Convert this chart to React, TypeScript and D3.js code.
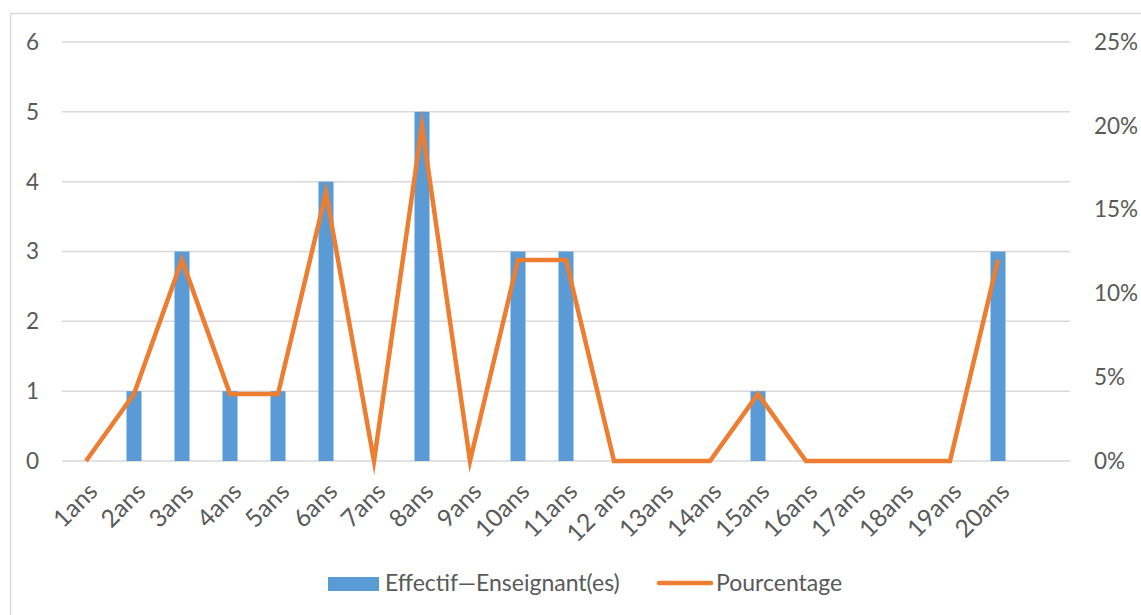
import React from "react";
import * as d3 from "d3";

const categories = ["1ans","2ans","3ans","4ans","5ans","6ans","7ans","8ans","9ans","10ans","11ans","12 ans","13ans","14ans","15ans","16ans","17ans","18ans","19ans","20ans",""];
const effectif = [0,1,3,1,1,4,0,5,0,3,3,0,0,0,1,0,0,0,0,3];
const pourcentage = [0,4,12,4,4,16,0,20,0,12,12,0,0,0,4,0,0,0,0,12];
const leftTicks = [0,1,2,3,4,5,6];
const rightTicks = [0,5,10,15,20,25];

const W = 1141, H = 615;
const plot = { left: 62, right: 1070, top: 42, bottom: 461 };
const FONT = "Lato, 'Open Sans', sans-serif";
const TXT = "#595959";
const FS = 22.5;

export default function App() {
  const x = d3.scaleBand().domain(categories.map((c, i) => String(i))).range([plot.left, plot.right]).padding(0);
  const yL = d3.scaleLinear().domain([0, 6]).range([plot.bottom, plot.top]);
  const yR = d3.scaleLinear().domain([0, 25]).range([plot.bottom, plot.top]);
  const bw = 15;
  const cx = (i: number) => (x(String(i)) as number) + x.bandwidth() / 2;
  const line = d3.line<number>().x((_, i) => cx(i)).y((d) => yR(d));

  return (
    <svg width={W} height={H} style={{ position: "absolute", left: 0, top: 0, background: "#fff" }} fontFamily={FONT}>
      <rect x={10.5} y={13.5} width={W} height={H} fill="#fff" stroke="#d9d9d9" strokeWidth={1.5} />
      {leftTicks.map((t) => (
        <line key={"g" + t} x1={plot.left} x2={plot.right} y1={yL(t)} y2={yL(t)} stroke="#d9d9d9" strokeWidth={1.5} />
      ))}
      {leftTicks.map((t) => (
        <text key={"l" + t} x={39} y={yL(t)} dy="0.35em" textAnchor="end" fontSize={FS} fill={TXT}>{t}</text>
      ))}
      {rightTicks.map((t) => (
        <text key={"r" + t} x={1094} y={yR(t)} dy="0.35em" textAnchor="start" fontSize={FS} fill={TXT}>{t + "%"}</text>
      ))}
      {effectif.map((v, i) => (
        <rect key={"b" + i} x={cx(i) - bw / 2} y={yL(v)} width={bw} height={plot.bottom - yL(v)} fill="#5b9bd5" />
      ))}
      <path d={line(pourcentage) || ""} fill="none" stroke="#ed7d31" strokeWidth={4.5} strokeLinejoin="miter" strokeMiterlimit={10} />
      {categories.map((c, i) => (
        <text key={"x" + i} transform={`translate(${cx(i) + 7},${487}) rotate(-45)`} textAnchor="end" dy="0.35em" fontSize={24.5} fill={TXT}>{c}</text>
      ))}
      <rect x={328} y={577} width={51} height={14} fill="#5b9bd5" />
      <text x={385} y={591} fontSize={23} fill={TXT}>Effectif—Enseignant(es)</text>
      <line x1={659} x2={711} y1={583} y2={583} stroke="#ed7d31" strokeWidth={4.5} strokeLinecap="round" />
      <text x={716} y={591} fontSize={23} fill={TXT}>Pourcentage</text>
    </svg>
  );
}
